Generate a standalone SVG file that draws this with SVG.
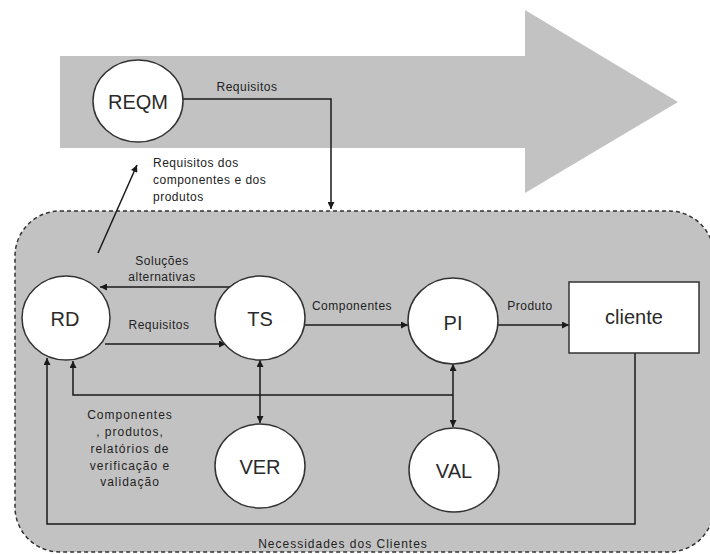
<svg xmlns="http://www.w3.org/2000/svg" width="710" height="554" viewBox="0 0 710 554">
<defs>
<marker id="ah" viewBox="0 0 10 10" refX="10" refY="5" markerWidth="9" markerHeight="7" markerUnits="userSpaceOnUse" orient="auto-start-reverse">
<path d="M0,0 L10,5 L0,10 z" fill="#1a1a1a"/>
</marker>
<style>
.node{fill:#ffffff;stroke:#333333;stroke-width:1.5}
.nl{font-family:"Liberation Sans",Arial,sans-serif;font-size:20px;fill:#2a2a2a;text-anchor:middle}
.lb{font-family:"Liberation Sans",Arial,sans-serif;font-size:12px;fill:#222222;letter-spacing:0.5px}
.c{text-anchor:middle}
.w{letter-spacing:1px}
.ln{fill:none;stroke:#1a1a1a;stroke-width:1.5}
</style>
</defs>
<rect width="710" height="554" fill="#ffffff"/>
<polygon id="bigarrow" points="60,56 525,56 525,10 678,102 525,193 525,148 60,148" fill="#c2c2c2"/>
<rect id="region" x="15" y="211" width="699" height="341" rx="45" ry="45" fill="#c2c2c2" stroke="#333333" stroke-width="1.5" stroke-dasharray="4,3"/>
<g id="connectors">
<path class="ln" d="M183,99 H331 V209" marker-end="url(#ah)"/>
<path class="ln" d="M98,253 L137,165" marker-end="url(#ah)"/>
<path class="ln" d="M230,287 H100" marker-end="url(#ah)"/>
<path class="ln" d="M105,344 H226" marker-end="url(#ah)"/>
<path class="ln" d="M305,325 H408" marker-end="url(#ah)"/>
<path class="ln" d="M498,325 H569" marker-end="url(#ah)"/>
<path class="ln" d="M260,360 V423" marker-start="url(#ah)" marker-end="url(#ah)"/>
<path class="ln" d="M453,364 V427" marker-start="url(#ah)" marker-end="url(#ah)"/>
<path class="ln" d="M453,395 H73 V361" marker-end="url(#ah)"/>
<path class="ln" d="M635,353 V524 H47 V358" marker-end="url(#ah)"/>
</g>
<g id="REQM"><ellipse class="node" cx="138" cy="101" rx="45" ry="41"/><text class="nl" x="138" y="109">REQM</text></g>
<g id="RD"><ellipse class="node" cx="66" cy="318" rx="44" ry="42"/><text class="nl" x="65" y="326">RD</text></g>
<g id="TS"><ellipse class="node" cx="260" cy="318" rx="45" ry="42"/><text class="nl" x="260" y="326">TS</text></g>
<g id="PI"><ellipse class="node" cx="453" cy="321" rx="45" ry="43"/><text class="nl" x="453" y="330">PI</text></g>
<g id="VER"><ellipse class="node" cx="260" cy="466" rx="45" ry="42"/><text class="nl" x="260" y="474">VER</text></g>
<g id="VAL"><ellipse class="node" cx="454" cy="470" rx="45" ry="42"/><text class="nl" x="454" y="478">VAL</text></g>
<g id="cliente"><rect class="node" x="569" y="282" width="130" height="71"/><text class="nl" x="634" y="324">cliente</text></g>
<g id="labels">
<text class="lb c" x="247" y="91">Requisitos</text>
<text class="lb" x="153" y="167">Requisitos dos</text>
<text class="lb" x="153" y="184">componentes e dos</text>
<text class="lb" x="153" y="201">produtos</text>
<text class="lb c" x="162" y="265">Soluções</text>
<text class="lb c" x="162" y="281">alternativas</text>
<text class="lb c" x="159" y="329">Requisitos</text>
<text class="lb c" x="352" y="310">Componentes</text>
<text class="lb c" x="530" y="310">Produto</text>
<text class="lb c w" x="130" y="419">Componentes</text>
<text class="lb c w" x="130" y="436">, produtos,</text>
<text class="lb c w" x="130" y="453">relatórios de</text>
<text class="lb c w" x="130" y="470">verificação e</text>
<text class="lb c w" x="130" y="486">validação</text>
<text class="lb c w" x="343" y="548">Necessidades dos Clientes</text>
</g>
</svg>
